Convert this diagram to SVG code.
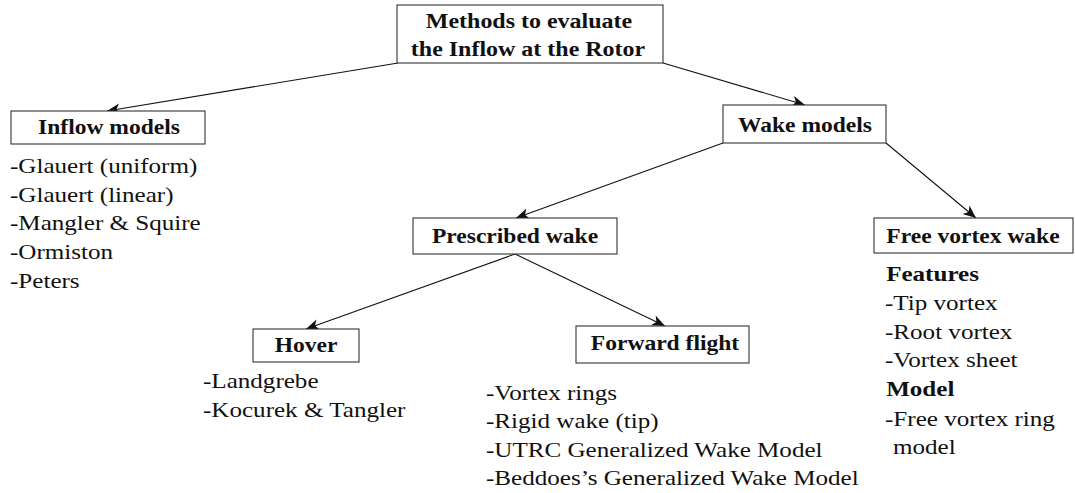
<svg xmlns="http://www.w3.org/2000/svg" width="1075" height="493" viewBox="0 0 1075 493">
  <style>
    .box { fill: #ffffff; stroke: #333333; stroke-width: 1.1; }
    .edge { fill: none; stroke: #111111; stroke-width: 1.1; marker-end: url(#arrow); }
    text { font-family: "Liberation Serif", "Tinos", "DejaVu Serif", serif; font-size: 22px; fill: #111111; }
    .title { font-weight: bold; text-anchor: middle; }
    .bold { font-weight: bold; }
  </style>
  <defs>
    <marker id="arrow" markerUnits="userSpaceOnUse" markerWidth="16" markerHeight="12" refX="14" refY="6" orient="auto">
      <path d="M14,6 L1,0.5 L4.5,6 L1,11.5 Z" fill="#111111"/>
    </marker>
  </defs>

  <g id="connectors">
    <line class="edge" x1="398" y1="63" x2="107" y2="111"/>
    <line class="edge" x1="663" y1="63" x2="805" y2="105"/>
    <line class="edge" x1="723" y1="143" x2="516" y2="218"/>
    <line class="edge" x1="886" y1="143" x2="976" y2="218"/>
    <line class="edge" x1="515" y1="254" x2="306" y2="329"/>
    <line class="edge" x1="515" y1="254" x2="665" y2="326"/>
  </g>

  <g id="node-root">
    <rect class="box" x="397" y="5" width="266" height="58"/>
    <text class="title" transform="translate(529,27.5) scale(1.09,1)">Methods to evaluate</text>
    <text class="title" transform="translate(528,55.5) scale(1.09,1)">the Inflow at the Rotor</text>
  </g>

  <g id="node-inflow">
    <rect class="box" x="11" y="111" width="194" height="33"/>
    <text class="title" transform="translate(109,134) scale(1.07,1)">Inflow models</text>
    <g transform="translate(10,0) scale(1.14,1)">
      <text x="0" y="173">-Glauert (uniform)</text>
      <text x="0" y="202">-Glauert (linear)</text>
      <text x="0" y="230.5">-Mangler &amp; Squire</text>
      <text x="0" y="259">-Ormiston</text>
      <text x="0" y="288">-Peters</text>
    </g>
  </g>

  <g id="node-wake">
    <rect class="box" x="723" y="105" width="163" height="38"/>
    <text class="title" transform="translate(805,132) scale(1.07,1)">Wake models</text>
  </g>

  <g id="node-prescribed">
    <rect class="box" x="413" y="218" width="204" height="36"/>
    <text class="title" transform="translate(515,243) scale(1.07,1)">Prescribed wake</text>
  </g>

  <g id="node-free">
    <rect class="box" x="874" y="218" width="199" height="35"/>
    <text class="title" transform="translate(973,242.5) scale(1.07,1)">Free vortex wake</text>
    <g transform="translate(885,0) scale(1.14,1)">
      <text class="bold" x="1" y="281.5">Features</text>
      <text x="0" y="310">-Tip vortex</text>
      <text x="0" y="339">-Root vortex</text>
      <text x="0" y="367.5">-Vortex sheet</text>
      <text class="bold" x="1" y="396.5">Model</text>
      <text x="0" y="426">-Free vortex ring</text>
      <text x="7" y="454.5">model</text>
    </g>
  </g>

  <g id="node-hover">
    <rect class="box" x="253" y="329" width="106" height="33"/>
    <text class="title" transform="translate(306,352) scale(1.07,1)">Hover</text>
    <g transform="translate(203,0) scale(1.14,1)">
      <text x="0" y="388">-Landgrebe</text>
      <text x="0" y="417">-Kocurek &amp; Tangler</text>
    </g>
  </g>

  <g id="node-forward">
    <rect class="box" x="576" y="326" width="173" height="37"/>
    <text class="title" transform="translate(665,350) scale(1.07,1)">Forward flight</text>
    <g transform="translate(486,0) scale(1.14,1)">
      <text x="0" y="400">-Vortex rings</text>
      <text x="0" y="428.5">-Rigid wake (tip)</text>
      <text x="0" y="457">-UTRC Generalized Wake Model</text>
      <text x="0" y="485.5">-Beddoes’s Generalized Wake Model</text>
    </g>
  </g>
</svg>
